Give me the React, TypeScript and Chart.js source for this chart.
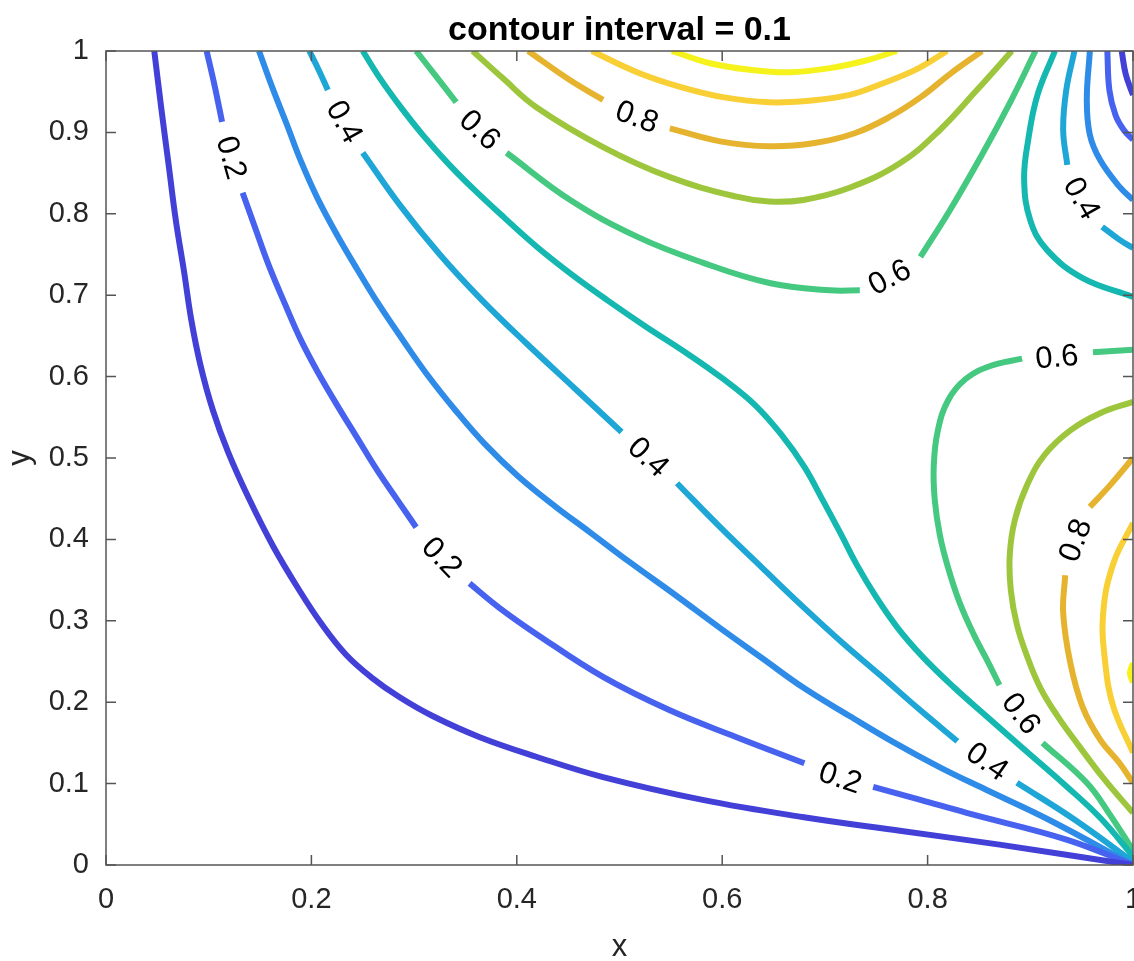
import React, { useEffect, useRef } from 'react';
import { Chart, registerables } from 'chart.js';

Chart.register(...registerables);

type Pt = [number, number];

// Tick values and labels
const xTicks = [0, 0.2, 0.4, 0.6, 0.8, 1];
const xTickLabels = ['0', '0.2', '0.4', '0.6', '0.8', '1'];
const yTicks = [0, 0.1, 0.2, 0.3, 0.4, 0.5, 0.6, 0.7, 0.8, 0.9, 1];
const yTickLabels = ['0', '0.1', '0.2', '0.3', '0.4', '0.5', '0.6', '0.7', '0.8', '0.9', '1'];

// Contour levels
const levels = [0.1, 0.2, 0.3, 0.4, 0.5, 0.6, 0.7, 0.8, 0.9, 1.0];

// ---- contour 0.1 ----
const c01a: Pt[] = [[0.047, 1.0], [0.054, 0.928], [0.061, 0.86], [0.068, 0.792], [0.076, 0.729], [0.083, 0.67], [0.092, 0.614], [0.104, 0.559], [0.119, 0.507], [0.14, 0.448], [0.163, 0.391], [0.187, 0.34], [0.21, 0.296], [0.234, 0.258], [0.259, 0.23], [0.286, 0.206], [0.318, 0.183], [0.364, 0.157], [0.419, 0.133], [0.484, 0.108], [0.581, 0.08], [0.678, 0.059], [0.773, 0.042], [0.87, 0.025], [1.0, 0.0]];
const c01b: Pt[] = [[0.989, 1.0], [0.993, 0.971], [1.0, 0.946]];

// ---- contour 0.2 ----
const c02a: Pt[] = [[0.098, 1.0], [0.106, 0.956], [0.113, 0.913]];
const c02b: Pt[] = [[0.133, 0.826], [0.146, 0.78], [0.159, 0.735], [0.174, 0.69], [0.189, 0.647], [0.206, 0.606], [0.225, 0.565], [0.244, 0.526], [0.264, 0.485], [0.284, 0.448], [0.302, 0.415]];
const c02c: Pt[] = [[0.354, 0.346], [0.383, 0.316], [0.42, 0.283], [0.484, 0.231], [0.549, 0.19], [0.614, 0.157], [0.68, 0.125]];
const c02d: Pt[] = [[0.747, 0.096], [0.793, 0.08], [0.838, 0.064], [0.936, 0.031], [1.0, 0.0]];
const c02e: Pt[] = [[0.975, 1.0], [0.977, 0.952], [0.983, 0.921], [0.991, 0.903], [1.0, 0.891]];

// ---- contour 0.3 ----
const c03a: Pt[] = [[0.149, 1.0], [0.162, 0.955], [0.176, 0.91], [0.19, 0.864], [0.206, 0.819], [0.225, 0.774], [0.245, 0.731], [0.266, 0.688], [0.289, 0.645], [0.313, 0.602], [0.34, 0.559], [0.369, 0.517], [0.401, 0.478], [0.437, 0.441], [0.471, 0.409], [0.51, 0.372], [0.554, 0.332], [0.598, 0.291], [0.639, 0.254], [0.68, 0.217], [0.724, 0.183], [0.768, 0.15], [0.812, 0.12], [0.856, 0.093], [0.919, 0.055], [1.0, 0.0]];
const c03b: Pt[] = [[0.958, 1.0], [0.955, 0.94], [0.958, 0.897], [0.968, 0.866], [0.987, 0.833], [1.0, 0.817]];

// ---- contour 0.4 ----
const c04a: Pt[] = [[0.198, 1.0], [0.207, 0.977], [0.216, 0.952]];
const c04b: Pt[] = [[0.25, 0.875], [0.286, 0.811], [0.325, 0.75], [0.366, 0.694], [0.41, 0.64], [0.456, 0.586], [0.502, 0.532]];
const c04c: Pt[] = [[0.556, 0.469], [0.598, 0.415], [0.639, 0.365], [0.678, 0.318], [0.717, 0.273], [0.754, 0.233], [0.793, 0.19], [0.829, 0.152]];
const c04d: Pt[] = [[0.887, 0.101], [0.944, 0.055], [1.0, 0.004]];
const c04e: Pt[] = [[0.943, 1.0], [0.935, 0.952], [0.932, 0.903], [0.936, 0.86]];
const c04f: Pt[] = [[0.97, 0.784], [0.987, 0.768], [1.0, 0.758]];

// ---- contour 0.5 ----
const c05a: Pt[] = [[0.25, 1.0], [0.267, 0.966], [0.287, 0.931], [0.309, 0.896], [0.333, 0.862], [0.359, 0.829], [0.388, 0.795], [0.42, 0.759], [0.453, 0.726], [0.488, 0.694], [0.525, 0.662], [0.564, 0.63], [0.6, 0.598], [0.632, 0.565], [0.658, 0.528], [0.68, 0.489], [0.698, 0.448], [0.715, 0.408], [0.731, 0.369], [0.75, 0.329], [0.771, 0.291], [0.795, 0.256], [0.825, 0.219], [0.859, 0.181], [0.895, 0.141], [0.934, 0.098], [0.968, 0.058], [1.0, 0.011]];
const c05b: Pt[] = [[0.924, 1.0], [0.907, 0.946], [0.898, 0.891], [0.894, 0.842], [0.9, 0.792], [0.916, 0.756], [0.951, 0.721], [1.0, 0.698]];

// ---- contour 0.6 ----
const c06a: Pt[] = [[0.302, 1.0], [0.322, 0.968], [0.341, 0.937]];
const c06b: Pt[] = [[0.39, 0.875], [0.452, 0.817], [0.517, 0.772], [0.581, 0.74], [0.646, 0.715], [0.705, 0.706], [0.734, 0.706]];
const c06c: Pt[] = [[0.793, 0.747], [0.822, 0.805], [0.854, 0.875], [0.88, 0.936], [0.905, 1.0]];
const c06d: Pt[] = [[1.0, 0.633], [0.961, 0.63]];
const c06e: Pt[] = [[0.892, 0.622], [0.861, 0.613], [0.837, 0.597], [0.82, 0.571], [0.81, 0.534], [0.806, 0.491], [0.807, 0.448], [0.812, 0.405], [0.82, 0.365], [0.831, 0.323], [0.845, 0.283], [0.859, 0.249], [0.87, 0.221]];
const c06f: Pt[] = [[0.912, 0.15], [0.955, 0.101], [0.978, 0.061], [1.0, 0.018]];

// ---- contour 0.7 ----
const c07a: Pt[] = [[0.357, 1.0], [0.386, 0.967], [0.419, 0.931], [0.484, 0.882], [0.549, 0.845], [0.614, 0.821], [0.646, 0.815], [0.679, 0.817], [0.724, 0.832], [0.773, 0.862], [0.812, 0.903], [0.848, 0.952], [0.882, 1.0]];
const c07b: Pt[] = [[1.0, 0.569], [0.968, 0.555], [0.939, 0.534], [0.914, 0.504], [0.897, 0.467], [0.885, 0.424], [0.88, 0.381], [0.881, 0.338], [0.887, 0.295], [0.897, 0.256], [0.91, 0.217], [0.927, 0.182], [0.947, 0.147], [0.971, 0.107], [1.0, 0.064]];

// ---- contour 0.8 ----
const c08a: Pt[] = [[0.411, 1.0], [0.452, 0.964], [0.484, 0.94]];
const c08b: Pt[] = [[0.549, 0.905], [0.598, 0.889], [0.646, 0.883], [0.69, 0.887], [0.729, 0.899], [0.763, 0.919], [0.793, 0.943], [0.822, 0.972], [0.853, 1.0]];
const c08c: Pt[] = [[1.0, 0.5], [0.978, 0.467], [0.958, 0.44]];
const c08d: Pt[] = [[0.934, 0.356], [0.932, 0.31], [0.939, 0.248], [0.951, 0.194], [0.968, 0.154], [0.987, 0.125], [1.0, 0.101]];

// ---- contour 0.9 ----
const c09a: Pt[] = [[0.473, 1.0], [0.517, 0.974], [0.559, 0.956], [0.602, 0.943], [0.646, 0.937], [0.685, 0.939], [0.724, 0.946], [0.758, 0.961], [0.79, 0.978], [0.819, 1.0]];
const c09b: Pt[] = [[1.0, 0.42], [0.981, 0.371], [0.971, 0.31], [0.973, 0.248], [0.981, 0.194], [1.0, 0.138]];

// ---- contour 1.0 ----
const c10a: Pt[] = [[0.551, 1.0], [0.588, 0.985], [0.627, 0.977], [0.666, 0.974], [0.705, 0.979], [0.739, 0.988], [0.77, 1.0]];
const c10b: Pt[] = [[1.0, 0.248], [0.997, 0.236], [1.0, 0.224]];

// Segments per level (same order as levels)
const segmentsByLevel: Pt[][][] = [
  [c01a, c01b],
  [c02a, c02b, c02c, c02d, c02e],
  [c03a, c03b],
  [c04a, c04b, c04c, c04d, c04e, c04f],
  [c05a, c05b],
  [c06a, c06b, c06c, c06d, c06e, c06f],
  [c07a, c07b],
  [c08a, c08b, c08c, c08d],
  [c09a, c09b],
  [c10a, c10b],
];

// Inline contour labels: text, x, y (data units), angle (deg)
const labelTexts = ['0.2', '0.2', '0.2', '0.4', '0.4', '0.4', '0.4', '0.6', '0.6', '0.6', '0.6', '0.8', '0.8'];
const labelX = [0.122, 0.327, 0.715, 0.232, 0.528, 0.858, 0.95, 0.364, 0.763, 0.926, 0.891, 0.517, 0.944];
const labelY = [0.869, 0.378, 0.107, 0.913, 0.501, 0.127, 0.819, 0.903, 0.722, 0.624, 0.186, 0.919, 0.399];
const labelAngle = [74, 46, 19, 61, 43, 35, 60, 43, -28, -5, 53, 20, -70];

// Styles
const levelColors = ['#4340d8', '#4662ef', '#2e8ce8', '#1ea7d6', '#14b8b0', '#45c880', '#9dc63c', '#e6b32e', '#f8cf34', '#f5f21c'];
const FONT = "'Liberation Sans', Arial, Helvetica, sans-serif";
const AXIS_COLOR = '#555555';
const TEXT_COLOR = '#262626';

const framePlugin = {
  id: 'frame',
  afterDraw(chart: any) {
    const { ctx, chartArea } = chart;
    const { left, right, top, bottom } = chartArea;
    const xs = chart.scales.x;
    const ys = chart.scales.y;
    ctx.save();
    ctx.strokeStyle = AXIS_COLOR;
    ctx.lineWidth = 1.5;
    ctx.strokeRect(left, top, right - left, bottom - top);
    const tl = 10;
    ctx.beginPath();
    xTicks.forEach((v) => {
      const px = xs.getPixelForValue(v);
      ctx.moveTo(px, bottom);
      ctx.lineTo(px, bottom - tl);
      ctx.moveTo(px, top);
      ctx.lineTo(px, top + tl);
    });
    yTicks.forEach((v) => {
      const py = ys.getPixelForValue(v);
      ctx.moveTo(left, py);
      ctx.lineTo(left + tl, py);
      ctx.moveTo(right, py);
      ctx.lineTo(right - tl, py);
    });
    ctx.stroke();
    // Title
    ctx.fillStyle = '#000000';
    ctx.font = `bold 34px ${FONT}`;
    ctx.textAlign = 'center';
    ctx.textBaseline = 'alphabetic';
    ctx.fillText('contour interval = 0.1', (left + right) / 2, 40);
    ctx.restore();
  },
};

const labelPlugin = {
  id: 'contourLabels',
  afterDatasetsDraw(chart: any) {
    const { ctx } = chart;
    const xs = chart.scales.x;
    const ys = chart.scales.y;
    ctx.save();
    ctx.fillStyle = '#000000';
    ctx.font = `31px ${FONT}`;
    ctx.textAlign = 'center';
    ctx.textBaseline = 'middle';
    labelTexts.forEach((t, i) => {
      const px = xs.getPixelForValue(labelX[i]);
      const py = ys.getPixelForValue(labelY[i]);
      ctx.save();
      ctx.translate(px, py);
      ctx.rotate((labelAngle[i] * Math.PI) / 180);
      ctx.fillText(t, 0, 1);
      ctx.restore();
    });
    ctx.restore();
  },
};

function tickLabel(ticks: number[], labels: string[], value: number) {
  const i = ticks.findIndex((t) => Math.abs(t - value) < 1e-9);
  return i >= 0 ? labels[i] : '';
}

export default function App() {
  const ref = useRef<HTMLCanvasElement>(null);

  useEffect(() => {
    document.body.style.margin = '0';
    document.body.style.overflow = 'hidden';
    document.documentElement.style.overflow = 'hidden';
    Chart.defaults.font.family = FONT;

    const datasets: any[] = [];
    segmentsByLevel.forEach((segs, li) => {
      segs.forEach((seg, si) => {
        datasets.push({
          label: `${levels[li]}-${si}`,
          data: seg,
          showLine: true,
          borderColor: levelColors[li],
          backgroundColor: levelColors[li],
          borderWidth: 6,
          pointRadius: 0,
          pointHoverRadius: 0,
          tension: 0.4,
          fill: false,
          borderCapStyle: 'butt',
          borderJoinStyle: 'round',
          clip: 0,
        });
      });
    });

    const chart = new Chart(ref.current as HTMLCanvasElement, {
      type: 'scatter',
      data: { datasets },
      options: {
        animation: false,
        responsive: false,
        devicePixelRatio: 1,
        events: [],
        layout: { padding: { top: 51, right: 27, left: 0, bottom: 0 } },
        plugins: {
          legend: { display: false },
          tooltip: { enabled: false },
          title: { display: false },
        },
        scales: {
          x: {
            type: 'linear',
            min: 0,
            max: 1,
            afterBuildTicks: (s: any) => {
              s.ticks = xTicks.map((v) => ({ value: v }));
            },
            afterFit: (s: any) => {
              s.height = 96;
            },
            ticks: {
              autoSkip: false,
              maxRotation: 0,
              padding: 18,
              color: TEXT_COLOR,
              font: { size: 29, family: FONT },
              callback: (v: any) => tickLabel(xTicks, xTickLabels, Number(v)),
            },
            grid: { display: false, drawTicks: false },
            border: { display: false },
            title: {
              display: true,
              text: 'x',
              color: TEXT_COLOR,
              font: { size: 31, family: FONT },
              padding: { top: 0, bottom: -5 },
            },
          },
          y: {
            type: 'linear',
            min: 0,
            max: 1,
            afterBuildTicks: (s: any) => {
              s.ticks = yTicks.map((v) => ({ value: v }));
            },
            afterFit: (s: any) => {
              s.width = 106;
            },
            ticks: {
              autoSkip: false,
              padding: 17,
              color: TEXT_COLOR,
              font: { size: 29, family: FONT },
              callback: (v: any) => tickLabel(yTicks, yTickLabels, Number(v)),
            },
            grid: { display: false, drawTicks: false },
            border: { display: false },
            title: {
              display: true,
              text: 'y',
              color: TEXT_COLOR,
              font: { size: 31, family: FONT },
              padding: { top: 2, bottom: 0 },
            },
          },
        },
      } as any,
      plugins: [labelPlugin, framePlugin],
    });

    return () => {
      chart.destroy();
    };
  }, []);

  return (
    <div style={{ width: 1160, height: 961, overflow: 'hidden' }}>
      <canvas ref={ref} width={1160} height={961} style={{ display: 'block', width: 1160, height: 961 }} />
    </div>
  );
}
